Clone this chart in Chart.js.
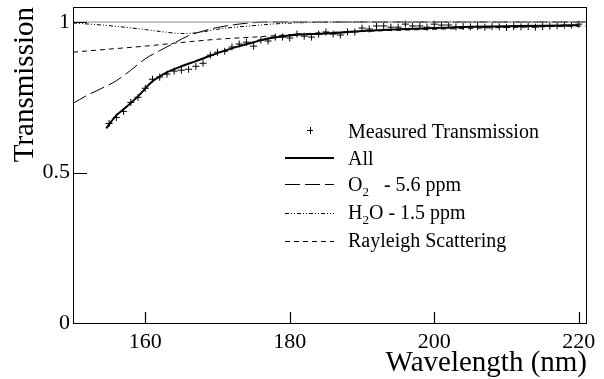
<!DOCTYPE html>
<html>
<head>
<meta charset="utf-8">
<script src="https://cdn.jsdelivr.net/npm/chart.js@4.4.1/dist/chart.umd.min.js"></script>
<style>
  body { margin: 0; background: #fff; }
  #wrap { width: 604px; height: 379px; position: relative; }
</style>
</head>
<body>
<div id="wrap"><canvas id="chartTransmission"></canvas></div>
<script>
// measured points, one per nm
const measuredWl = [155,156,157,158,159,160,161,162,163,164,165,166,167,168,169,170,171,172,173,174,175,176,177,178,179,180,181,182,183,184,185,186,187,188,189,190,191,192,193,194,195,196,197,198,199,200,201,202,203,204,205,206,207,208,209,210,211,212,213,214,215,216,217,218,219,220];
const measuredT = [0.663,0.683,0.703,0.733,0.75,0.78,0.81,0.817,0.827,0.837,0.84,0.843,0.853,0.863,0.89,0.9,0.903,0.917,0.927,0.933,0.92,0.94,0.937,0.95,0.95,0.947,0.96,0.953,0.95,0.96,0.967,0.96,0.957,0.967,0.967,0.98,0.977,0.987,0.987,0.983,0.983,0.993,0.987,0.987,0.983,0.993,0.99,0.99,0.984,0.985,0.984,0.985,0.983,0.985,0.984,0.982,0.985,0.984,0.985,0.983,0.985,0.986,0.988,0.99,0.99,0.993];

const allWl = [154.6,156,157,159,161,163,165,167,169,171,173,175,177,179,181,185,190,195,200,205,210,215,220];
const allT = [0.647,0.69,0.71,0.753,0.803,0.833,0.853,0.87,0.888,0.905,0.92,0.933,0.945,0.953,0.958,0.962,0.97,0.976,0.98,0.984,0.986,0.988,0.989];

const o2Wl = [150,152,154,156,158,160,162,164,166,168,170,172,174,177,221];
const o2T = [0.73,0.757,0.78,0.805,0.84,0.878,0.905,0.93,0.955,0.97,0.982,0.99,0.996,1.0,1.0];

const h2oWl = [150,155,160,163,165,167,170,172,174.5,178,182,190,221];
const h2oT = [0.997,0.988,0.975,0.966,0.962,0.964,0.976,0.982,0.987,0.994,0.998,1.0,1.0];

const rayWl = [150,155,160,165,170,175,180,185,190,200,210,221];
const rayT = [0.9,0.91,0.92,0.932,0.943,0.95,0.958,0.965,0.969,0.976,0.982,0.987];

const unityWl = [150,221];
const unityT = [1,1];

const xTicks = [160,180,200,220];
const yTicks = [0,0.5,1];

const serif = "'Liberation Serif', 'Times New Roman', serif";

function pts(xs, ys) {
    return xs.map((x, i) => ({ x: x, y: ys[i] }));
}

const framePlugin = {
    id: 'frame',
    afterDraw(chart) {
        const ctx = chart.ctx;
        const a = chart.chartArea;
        const xs = chart.scales.x, ys = chart.scales.y;
        ctx.save();
        ctx.strokeStyle = '#000';
        ctx.lineWidth = 1;
        ctx.strokeRect(a.left + 0.5, a.top + 0.5, a.right - a.left, a.bottom - a.top);
        // inward ticks
        ctx.lineWidth = 1.2;
        ctx.beginPath();
        xTicks.forEach(v => {
            const px = Math.round(xs.getPixelForValue(v)) + 0.5;
            ctx.moveTo(px, a.bottom);
            ctx.lineTo(px, a.bottom - 11);
        });
        yTicks.forEach(v => {
            const py = Math.round(ys.getPixelForValue(v)) + 0.5;
            ctx.moveTo(a.left, py);
            ctx.lineTo(a.left + 14, py);
        });
        ctx.stroke();

        // legend
        const lx0 = 285, lx1 = 334, tx = 348;
        ctx.fillStyle = '#000';
        ctx.textBaseline = 'middle';
        ctx.textAlign = 'left';
        ctx.font = '20px ' + serif;

        ctx.lineWidth = 1;
        ctx.beginPath();
        ctx.moveTo(307, 130.5); ctx.lineTo(313, 130.5);
        ctx.moveTo(310.5, 127); ctx.lineTo(310.5, 134);
        ctx.stroke();
        ctx.fillText('Measured Transmission', tx, 133);

        ctx.lineWidth = 2;
        ctx.beginPath(); ctx.moveTo(lx0, 158); ctx.lineTo(lx1, 158); ctx.stroke();
        ctx.fillText('All', tx, 160);

        ctx.lineWidth = 1;
        ctx.setLineDash([15, 5]);
        ctx.beginPath(); ctx.moveTo(lx0, 184.5); ctx.lineTo(lx1, 184.5); ctx.stroke();
        ctx.setLineDash([4, 2, 1, 2, 1, 2]);
        ctx.beginPath(); ctx.moveTo(lx0, 213.5); ctx.lineTo(lx1, 213.5); ctx.stroke();
        ctx.setLineDash([5, 4]);
        ctx.beginPath(); ctx.moveTo(lx0, 241.5); ctx.lineTo(lx1, 241.5); ctx.stroke();
        ctx.setLineDash([]);

        let x = tx;
        ctx.fillText('O', x, 186); x += ctx.measureText('O').width;
        ctx.font = '13px ' + serif;
        ctx.fillText('2', x, 193); x += ctx.measureText('2').width;
        ctx.font = '20px ' + serif;
        ctx.fillText('   - 5.6 ppm', x, 186);

        x = tx;
        ctx.fillText('H', x, 214); x += ctx.measureText('H').width;
        ctx.font = '13px ' + serif;
        ctx.fillText('2', x, 221); x += ctx.measureText('2').width;
        ctx.font = '20px ' + serif;
        ctx.fillText('O - 1.5 ppm', x, 214);

        ctx.fillText('Rayleigh Scattering', tx, 242);

        // axis titles
        ctx.font = '29px ' + serif;
        ctx.textBaseline = 'alphabetic';
        ctx.textAlign = 'right';
        ctx.fillText('Wavelength (nm)', a.right + 1, 371);
        ctx.translate(33, a.top);
        ctx.rotate(-Math.PI / 2);
        ctx.fillText('Transmission', 0, 0);
        ctx.restore();
    }
};

new Chart(document.getElementById('chartTransmission'), {
    type: 'scatter',
    data: {
        datasets: [{
            label: 'unity',
            data: pts(unityWl, unityT),
            showLine: true,
            borderColor: '#888',
            borderWidth: 1,
            pointRadius: 0
        }, {
            label: 'Rayleigh Scattering',
            data: pts(rayWl, rayT),
            showLine: true,
            borderColor: '#000',
            borderWidth: 1,
            borderDash: [5, 4],
            cubicInterpolationMode: 'monotone',
            pointRadius: 0
        }, {
            label: 'H2O - 1.5 ppm',
            data: pts(h2oWl, h2oT),
            showLine: true,
            borderColor: '#000',
            borderWidth: 1,
            borderDash: [4, 2, 1, 2, 1, 2],
            cubicInterpolationMode: 'monotone',
            pointRadius: 0
        }, {
            label: 'O2 - 5.6 ppm',
            data: pts(o2Wl, o2T),
            showLine: true,
            borderColor: '#000',
            borderWidth: 1,
            borderDash: [15, 5],
            cubicInterpolationMode: 'monotone',
            pointRadius: 0
        }, {
            label: 'All',
            data: pts(allWl, allT),
            showLine: true,
            borderColor: '#000',
            borderWidth: 2,
            cubicInterpolationMode: 'monotone',
            pointRadius: 0
        }, {
            label: 'Measured Transmission',
            data: pts(measuredWl, measuredT),
            showLine: false,
            pointStyle: 'cross',
            pointRadius: 3.5,
            borderColor: '#000',
            backgroundColor: '#000',
            borderWidth: 1
        }]
    },
    options: {
        responsive: true,
        maintainAspectRatio: false,
        animation: false,
        layout: { padding: { top: 7, right: 18, left: 0, bottom: 0 } },
        plugins: {
            legend: { display: false },
            tooltip: { enabled: false }
        },
        scales: {
            x: {
                type: 'linear',
                min: 150,
                max: 221,
                afterBuildTicks: s => { s.ticks = xTicks.map(v => ({ value: v })); },
                afterFit: s => { s.height = 56; s.paddingLeft = 0; s.paddingRight = 0; },
                grid: { display: false, drawTicks: false },
                border: { display: false },
                ticks: { color: '#000', font: { family: serif, size: 22 }, padding: 6, maxRotation: 0 }
            },
            y: {
                min: 0,
                max: 1.05,
                afterBuildTicks: s => { s.ticks = yTicks.map(v => ({ value: v })); },
                afterFit: s => { s.width = 73; s.paddingTop = 0; s.paddingBottom = 0; },
                grid: { display: false, drawTicks: false },
                border: { display: false },
                ticks: {
                    color: '#000',
                    font: { family: serif, size: 22 },
                    padding: 3,
                    callback: v => String(v)
                }
            }
        }
    },
    plugins: [framePlugin]
});
</script>
</body>
</html>
